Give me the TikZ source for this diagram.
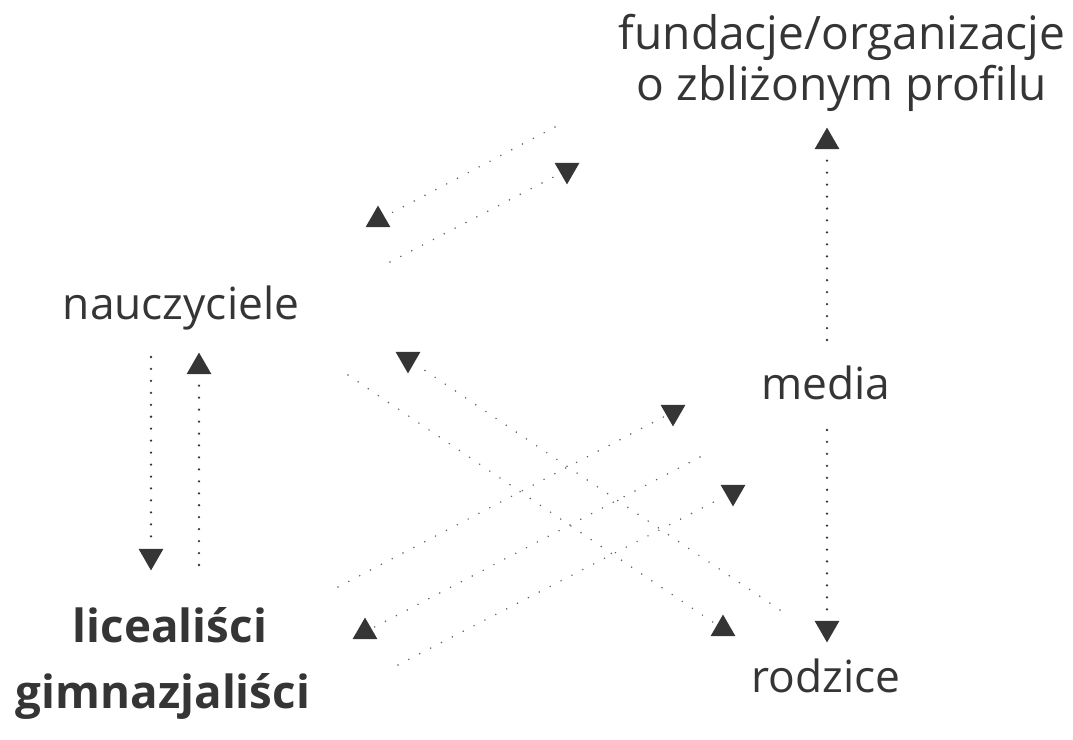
\documentclass[tikz,border=0pt]{standalone}
\usepackage{fontspec}
\setmainfont{Open Sans}
\usetikzlibrary{shapes.geometric}
\definecolor{ink}{HTML}{353535}
\definecolor{dotgray}{HTML}{606060}

\begin{document}
\begin{tikzpicture}[x=0.025cm,y=-0.025cm,
  word/.style={text=ink,inner sep=0pt,font=\fontsize{31.5}{35}\selectfont},
  bigword/.style={word,font=\fontsize{32.8}{36}\selectfont},
  boldword/.style={word,font=\fontsize{32.5}{35}\selectfont\bfseries},
  strongdots/.style={draw=ink,line width=1.8pt,line cap=round,dash pattern=on 0pt off 8.5pt,shorten >=2pt},
  faintdots/.style={draw=dotgray,line width=1.2pt,line cap=round,dash pattern=on 0pt off 8.7pt,shorten >=2pt},
  tipup/.style={regular polygon,regular polygon sides=3,fill=ink,inner sep=0pt,minimum size=0.72cm},
  tipdown/.style={tipup,shape border rotate=180}]

\useasboundingbox (0,0) rectangle (1073,740);

\node[bigword,align=center,anchor=north] (fund) at (842,14) {fundacje/organizacje\\o zbliżonym profilu};
\node[word,anchor=base] (naucz) at (181,320) {nauczyciele};
\node[word,anchor=base] (media) at (826,400) {media};
\node[word,anchor=base] (rodz) at (826,692) {rodzice};
\node[boldword,anchor=base] (lic) at (170,643) {licealiści};
\node[boldword,anchor=base] (gimn) at (163,708) {gimnazjaliści};

\node[tipdown] (naucz-lic) at (151,556) {};
\node[tipup] (lic-naucz) at (199,367) {};
\node[tipup] (media-fund) at (827,142) {};
\node[tipdown] (media-rodz) at (827,628) {};
\node[tipup] (fund-naucz) at (378,220) {};
\node[tipdown] (naucz-fund) at (567,170) {};
\node[tipup] (naucz-rodz) at (723,629) {};
\node[tipdown] (rodz-naucz) at (408,359) {};
\node[tipdown] (lic-media) at (673,412) {};
\node[tipup] (rodz-lic) at (365,632) {};
\node[tipdown] (lic-rodz) at (733,492) {};

\coordinate (a1) at (151,357);
\coordinate (a2) at (199,565);
\coordinate (a3) at (827,340);
\coordinate (a4) at (827,430);
\coordinate (b1) at (555,127);
\coordinate (b2) at (390,262);
\coordinate (c1) at (348,375);
\coordinate (c2) at (780,610);
\coordinate (c3) at (338,587);
\coordinate (c4) at (700,457);
\coordinate (c5) at (398,665);

\draw[strongdots] (a1) -- (naucz-lic);
\draw[strongdots] (a2) -- (lic-naucz);
\draw[strongdots] (a3) -- (media-fund);
\draw[strongdots] (a4) -- (media-rodz);
\draw[faintdots] (b1) -- (fund-naucz);
\draw[faintdots] (b2) -- (naucz-fund);
\draw[faintdots] (c1) -- (naucz-rodz);
\draw[faintdots] (c2) -- (rodz-naucz);
\draw[faintdots] (c3) -- (lic-media);
\draw[faintdots] (c4) -- (rodz-lic);
\draw[faintdots] (c5) -- (lic-rodz);
\end{tikzpicture}
\end{document}
